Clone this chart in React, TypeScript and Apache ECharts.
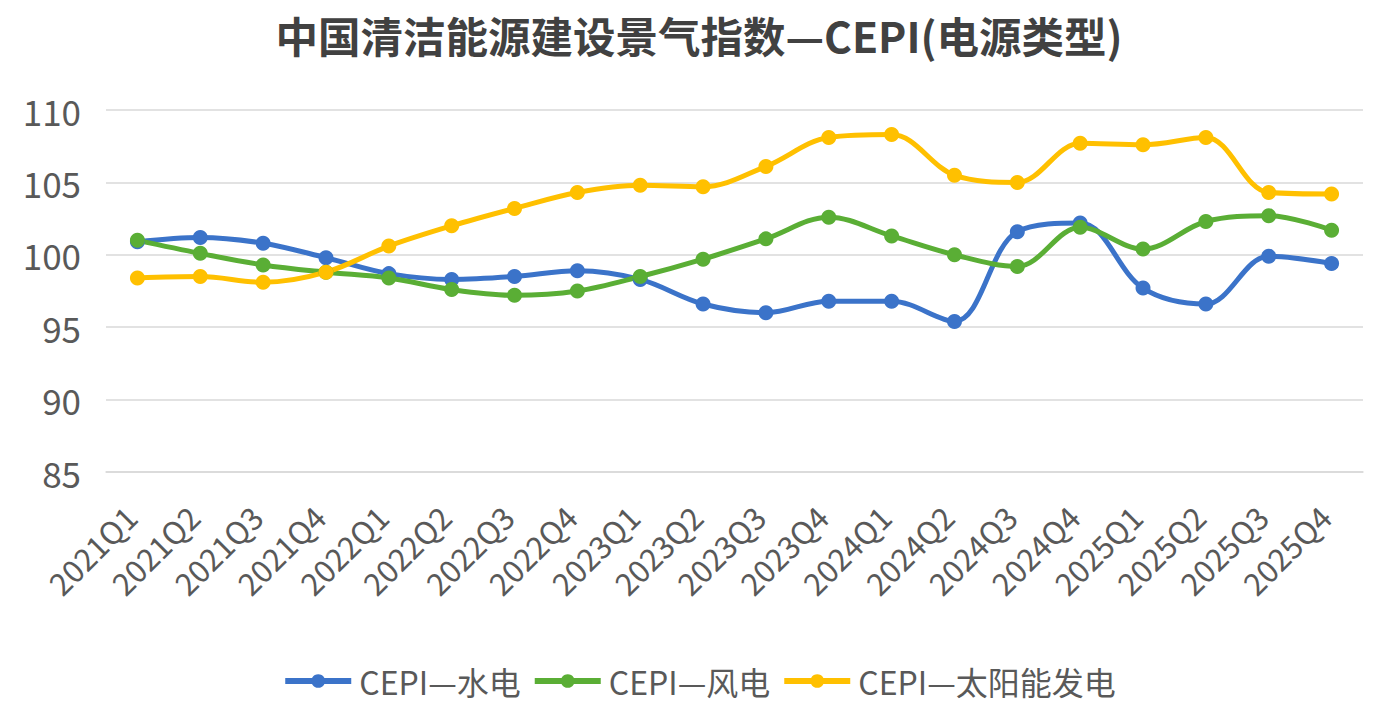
import React, { useEffect, useRef } from "react";
import * as echarts from "echarts";

const categories = [
  "2021Q1", "2021Q2", "2021Q3", "2021Q4",
  "2022Q1", "2022Q2", "2022Q3", "2022Q4",
  "2023Q1", "2023Q2", "2023Q3", "2023Q4",
  "2024Q1", "2024Q2", "2024Q3", "2024Q4",
  "2025Q1", "2025Q2", "2025Q3", "2025Q4",
];

const hydro = [100.9, 101.2, 100.8, 99.8, 98.7, 98.3, 98.5, 98.9, 98.3, 96.6, 96.0, 96.8, 96.8, 95.4, 101.6, 102.2, 97.7, 96.6, 99.9, 99.4];
const wind = [101.0, 100.1, 99.3, 98.8, 98.4, 97.6, 97.2, 97.5, 98.5, 99.7, 101.1, 102.6, 101.3, 100.0, 99.2, 101.9, 100.4, 102.3, 102.7, 101.7];
const solar = [98.4, 98.5, 98.1, 98.8, 100.6, 102.0, 103.2, 104.3, 104.8, 104.7, 106.1, 108.1, 108.3, 105.5, 105.0, 107.7, 107.6, 108.1, 104.3, 104.2];

const seriesNames = ["CEPI—水电", "CEPI—风电", "CEPI—太阳能发电"];
const seriesColors = ["#3b73c9", "#5aae35", "#ffc000"];

const FONT = "'Noto Sans CJK SC', 'Noto Sans', sans-serif";

export default function App() {
  const ref = useRef<HTMLDivElement>(null);
  useEffect(() => {
    if (!ref.current) return;
    const chart = echarts.init(ref.current, undefined, { renderer: "svg" });
    const data = [hydro, wind, solar];
    chart.setOption({
      animation: false,
      backgroundColor: "#ffffff",
      textStyle: { fontFamily: FONT },
      title: {
        text: "中国清洁能源建设景气指数—CEPI(电源类型)",
        left: "center",
        top: 8,
        textStyle: { fontSize: 42.5, fontWeight: "bold", color: "#414141", fontFamily: FONT },
      },
      grid: { left: 106, right: 35, top: 110, bottom: 254, containLabel: false },
      xAxis: {
        type: "category",
        data: categories,
        boundaryGap: true,
        axisLine: { show: true, lineStyle: { color: "#d9d9d9", width: 1.5 } },
        axisTick: { show: false },
        axisLabel: {
          rotate: 45,
          interval: 0,
          fontSize: 31,
          color: "#595959",
          margin: 32,
          padding: [0, 10, 0, 0],
          fontFamily: FONT,
        },
      },
      yAxis: {
        type: "value",
        min: 85,
        max: 110,
        interval: 5,
        axisLine: { show: false },
        axisTick: { show: false },
        axisLabel: { fontSize: 35, color: "#595959", margin: 25, fontFamily: FONT },
        splitLine: { lineStyle: { color: "#d9d9d9", width: 1.5 } },
      },
      legend: {
        bottom: 24,
        left: "center",
        itemWidth: 66,
        itemHeight: 17,
        itemGap: 11,
        lineStyle: { width: 6 },
        textStyle: { fontSize: 32, color: "#595959", fontFamily: FONT, padding: [0, 0, 0, 3] },
        data: seriesNames,
      },
      series: seriesNames.map((name, i) => ({
        name,
        type: "line",
        data: data[i],
        smooth: 0.35,
        symbol: "circle",
        symbolSize: 15,
        lineStyle: { width: 5, color: seriesColors[i] },
        itemStyle: { color: seriesColors[i] },
      })),
    });
    return () => chart.dispose();
  }, []);
  return (
    <div
      ref={ref}
      style={{ position: "fixed", left: 0, top: 0, width: 1398, height: 726 }}
    />
  );
}
